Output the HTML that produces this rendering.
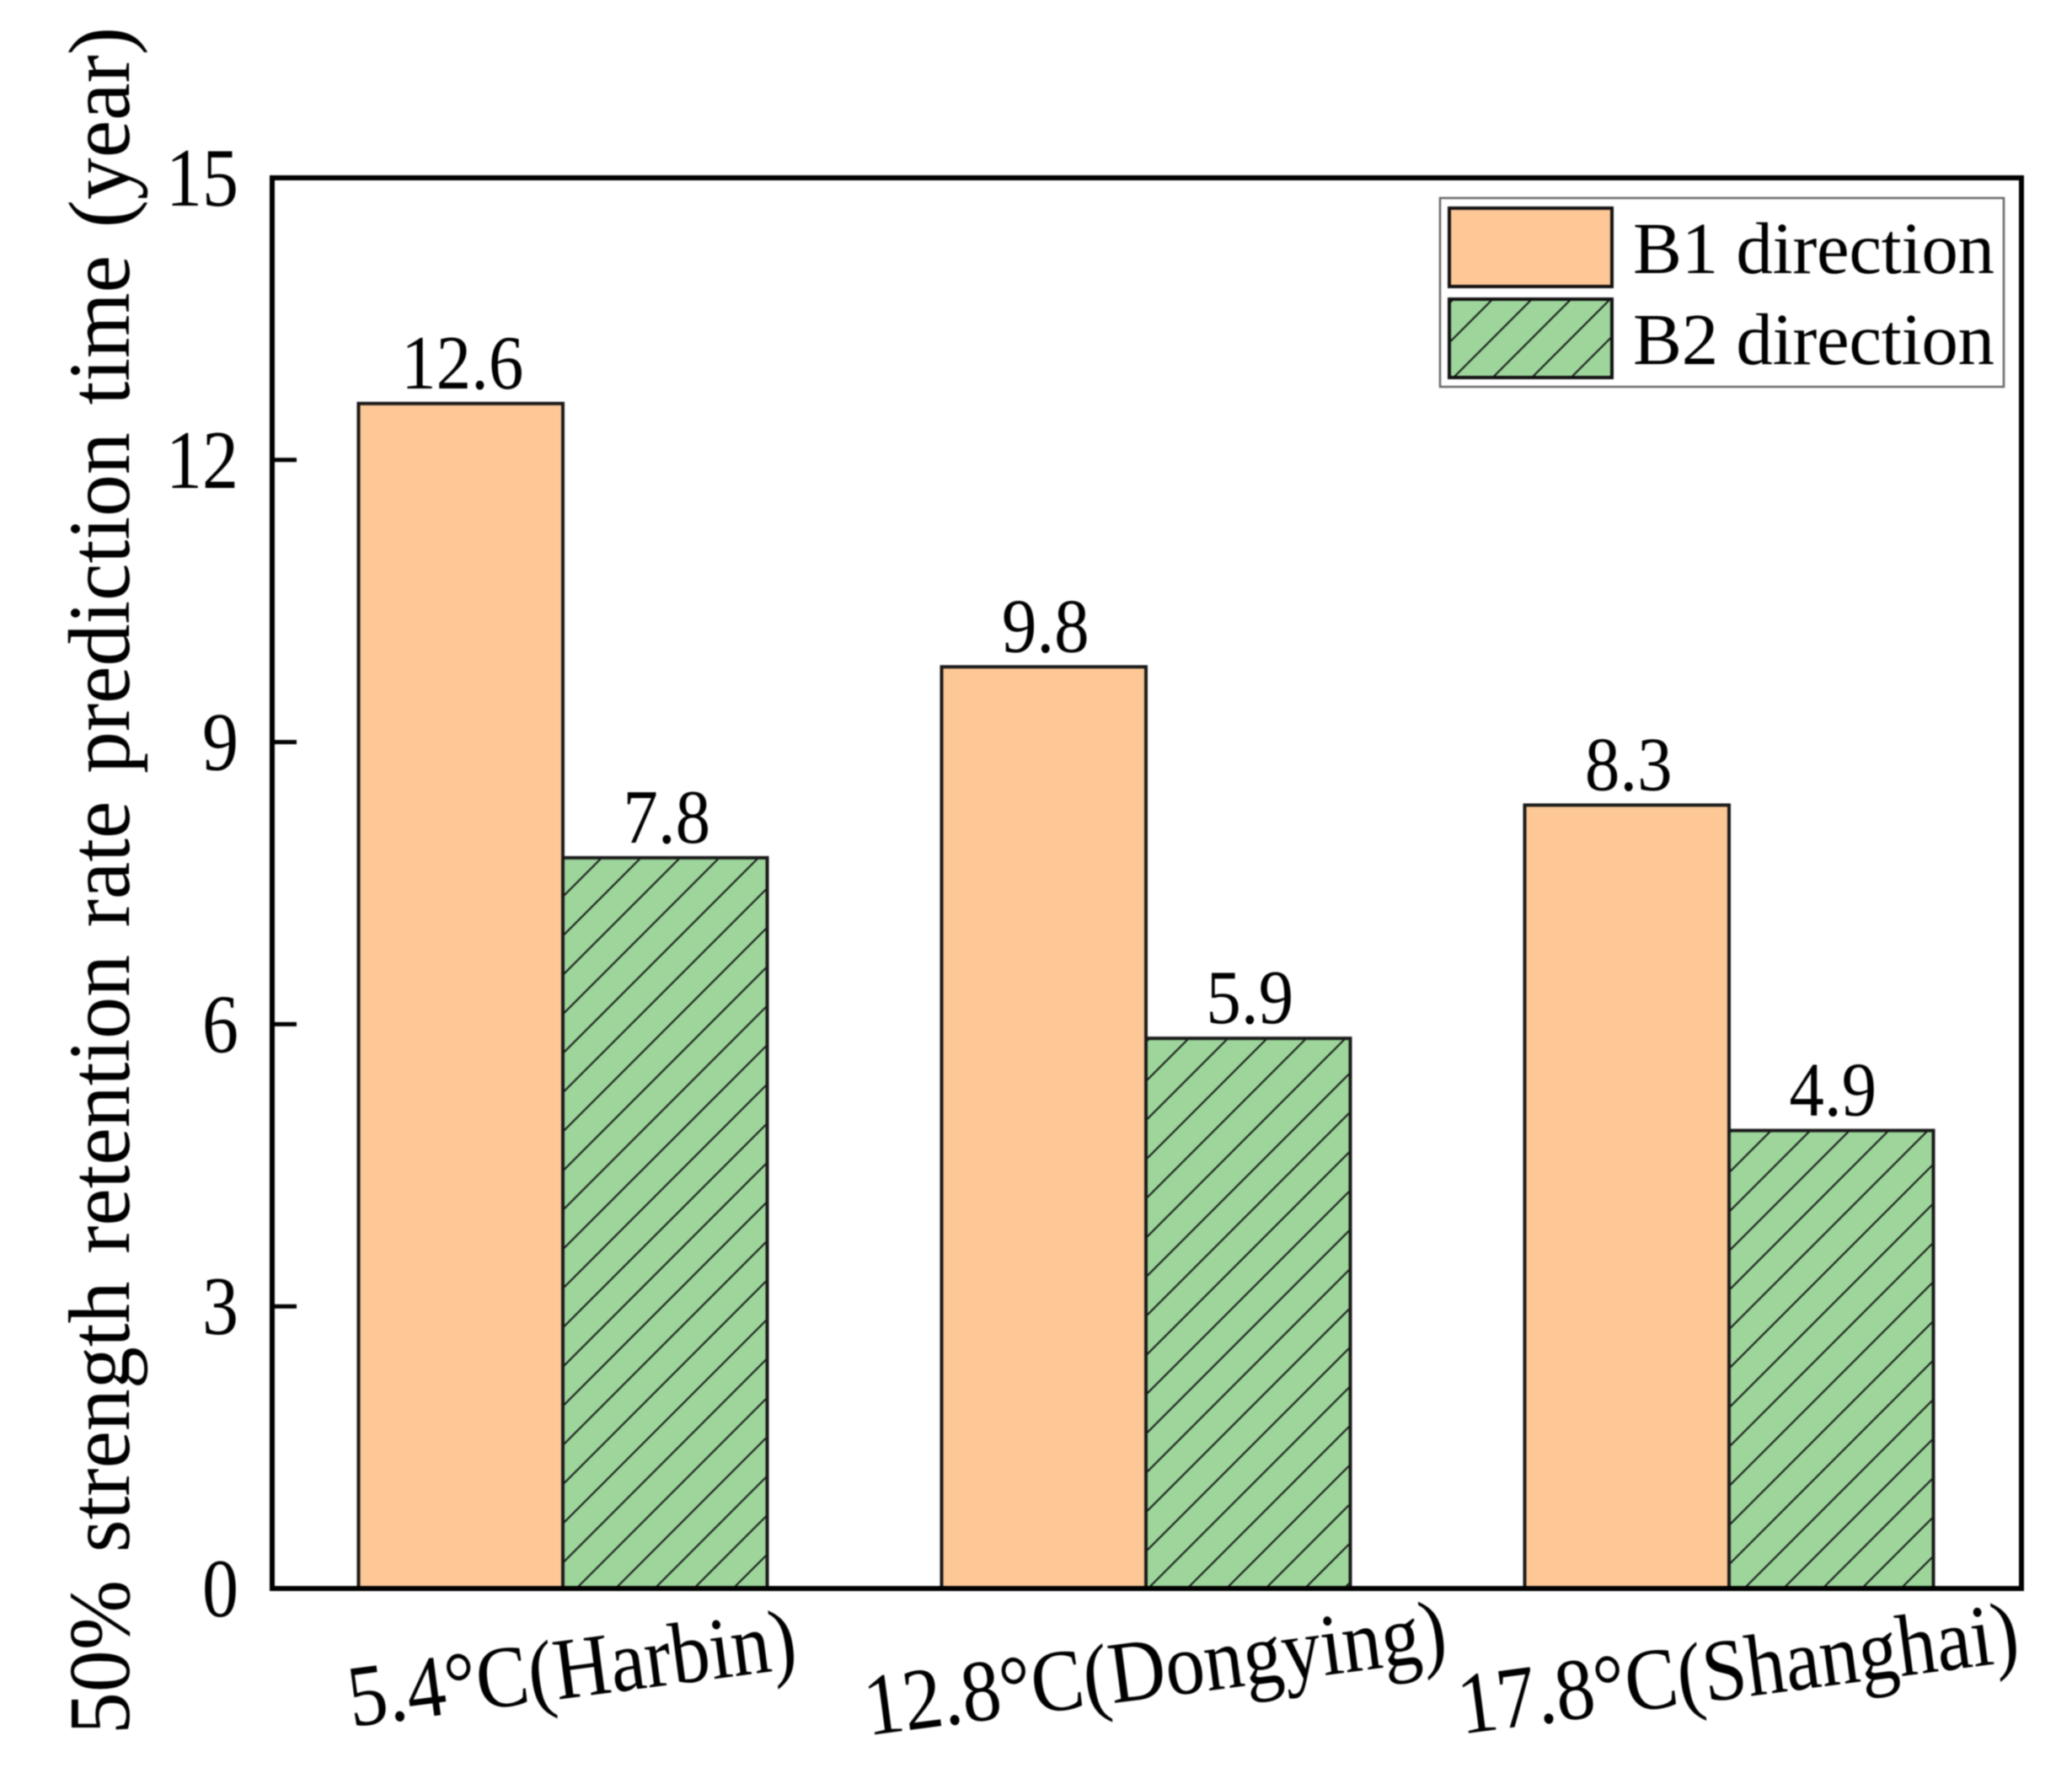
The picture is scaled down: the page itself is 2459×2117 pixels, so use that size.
<!DOCTYPE html>
<html lang="en">
<head>
<meta charset="utf-8">
<title>50% strength retention rate prediction time</title>
<style>
  html, body { margin: 0; padding: 0; background: #fff; }
  svg { display: block; font-family: "Liberation Serif", serif; fill: #000; filter: blur(0.7px); }
</style>
</head>
<body>
<svg id="chart" xmlns="http://www.w3.org/2000/svg" width="2459" height="2117" viewBox="0 0 2459 2117">
  <defs>
    <pattern id="hatch-legend" patternUnits="userSpaceOnUse" width="46.5" height="46.5" patternTransform="translate(34 0)">
      <rect width="46.5" height="46.5" fill="#9dd59b"></rect>
      <path d="M-5 5L5 -5M0 46.5L46.5 0M41.5 51.5L51.5 41.5" stroke="#111" stroke-width="2" fill="none"></path>
    </pattern>
    <pattern id="hatch-0" patternUnits="userSpaceOnUse" width="46.5" height="46.5" patternTransform="translate(11.5 0)">
      <rect width="46.5" height="46.5" fill="#9dd59b"></rect>
      <path d="M-5 5L5 -5M0 46.5L46.5 0M41.5 51.5L51.5 41.5" stroke="#111" stroke-width="2" fill="none"></path>
    </pattern>
    <pattern id="hatch-1" patternUnits="userSpaceOnUse" width="46.5" height="46.5" patternTransform="translate(39 0)">
      <rect width="46.5" height="46.5" fill="#9dd59b"></rect>
      <path d="M-5 5L5 -5M0 46.5L46.5 0M41.5 51.5L51.5 41.5" stroke="#111" stroke-width="2" fill="none"></path>
    </pattern>
    <pattern id="hatch-2" patternUnits="userSpaceOnUse" width="46.5" height="46.5" patternTransform="translate(2.5 0)">
      <rect width="46.5" height="46.5" fill="#9dd59b"></rect>
      <path d="M-5 5L5 -5M0 46.5L46.5 0M41.5 51.5L51.5 41.5" stroke="#111" stroke-width="2" fill="none"></path>
    </pattern>
  </defs>
  <g id="marks"></g>
  <rect x="323" y="211" width="2076" height="1674" fill="none" stroke="#000" stroke-width="6"></rect>
  <g id="y-axis"></g>
  <g id="x-axis"></g>
  <text transform="translate(153 2058) rotate(-90)" font-size="104" word-spacing="8" textLength="2026" lengthAdjust="spacingAndGlyphs">50% strength retention rate prediction time (year)</text>
  <g>
    <rect x="1709" y="235" width="669" height="224" fill="#fff" stroke="#666" stroke-width="2.5"></rect>
    <rect x="1720" y="247" width="193" height="93" fill="#fdc796" stroke="#111" stroke-width="4"></rect>
    <text x="1938" y="324" font-size="87" textLength="429">B1 direction</text>
    <rect x="1720" y="355" width="193" height="93" fill="url(#hatch-legend)" stroke="#111" stroke-width="4"></rect>
    <text x="1938" y="432" font-size="87" textLength="429">B2 direction</text>
  </g>
</svg>
<script>
const categories = ["5.4°C(Harbin)", "12.8°C(Dongying)", "17.8°C(Shanghai)"];
const b1Values = [12.6, 9.8, 8.33];
const b2Values = [7.77, 5.85, 4.87];
const b1Labels = ["12.6", "9.8", "8.3"];
const b2Labels = ["7.8", "5.9", "4.9"];
const yTicks = ["0", "3", "6", "9", "12", "15"];

const yMin = 0;
const yMax = 15;
const plotTop = 211;
const plotBottom = 1885;
const barWidth = 242.5;

function yScale(v) {
  return plotBottom - (v - yMin) / (yMax - yMin) * (plotBottom - plotTop);
}
function groupCenter(i) {
  return 668 + i * 692;
}
function make(tag, attrs, parent) {
  const el = document.createElementNS("http://www.w3.org/2000/svg", tag);
  for (const k in attrs) el.setAttribute(k, attrs[k]);
  parent.appendChild(el);
  return el;
}

const marks = document.getElementById("marks");
const yAxis = document.getElementById("y-axis");
const xAxis = document.getElementById("x-axis");

function drawBar(x, value, fill, label) {
  const top = yScale(value);
  const bar = make("rect", { x: x, y: top, width: barWidth, height: plotBottom - top, fill: fill, stroke: "#1a1a1a", "stroke-width": 4 }, marks);
  
  
  const t = make("text", { transform: "translate(" + (x + barWidth / 2 + 2) + " " + (top - 18) + ") scale(1 1.1)", "font-size": 83, "text-anchor": "middle" }, marks);
  t.textContent = label;
  
  
}

categories.forEach(function (name, i) {
  const c = groupCenter(i);
  drawBar(c - barWidth, b1Values[i], "#fdc796", b1Labels[i]);
  drawBar(c, b2Values[i], "url(#hatch-" + i + ")", b2Labels[i]);
  const cat = make("text", { transform: "translate(" + (c + 15) + " 2014) rotate(-7.5) scale(1 1.12)", "font-size": 93, "text-anchor": "middle" }, xAxis);
  cat.textContent = name;
  
  
});

yTicks.forEach(function (label) {
  const y = yScale(Number(label));
  const tick = make("line", { x1: 323, x2: 352, y1: y, y2: y, stroke: "#000", "stroke-width": 5 }, yAxis);
  
  
  const t = make("text", { transform: "translate(283 " + (y + 33) + ") scale(1 1.14)", "font-size": 86, "text-anchor": "end" }, yAxis);
  t.textContent = label;
  
  
});
</script>
</body>
</html>
